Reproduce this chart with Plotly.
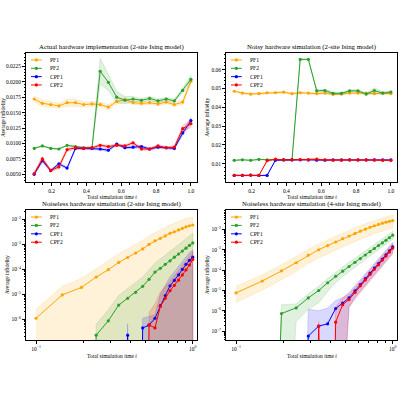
import plotly.graph_objects as go

# ---------------- data ----------------
t = [0.1, 0.147, 0.195, 0.242, 0.289, 0.337, 0.384, 0.432, 0.479, 0.526,
     0.574, 0.621, 0.668, 0.716, 0.763, 0.811, 0.858, 0.905, 0.953, 1.0]
series_names = ["PF1", "PF2", "CPF1", "CPF2"]

titles = ["Actual hardware implementation (2-site Ising model)",
          "Noisy hardware simulation (2-site Ising model)",
          "Noiseless hardware simulation (2-site Ising model)",
          "Noiseless hardware simulation (4-site Ising model)"]

# Top-left: actual hardware (mean, std)
tl_pf1 = [0.0172, 0.0165, 0.0163, 0.0161, 0.0166, 0.0166, 0.0163, 0.0164, 0.0163, 0.0159,
          0.0168, 0.0171, 0.0166, 0.0165, 0.0166, 0.0164, 0.0167, 0.0163, 0.0167, 0.0201]
tl_pf1_sd = [0.0005, 0.0005, 0.0005, 0.0004, 0.0006, 0.0006, 0.0004, 0.0004, 0.0004, 0.0004,
             0.0004, 0.0004, 0.0003, 0.0003, 0.0003, 0.0003, 0.0003, 0.0003, 0.0004, 0.0005]
tl_pf2 = [0.0092, 0.0096, 0.0092, 0.0091, 0.0097, 0.0095, 0.0093, 0.0093, 0.0217, 0.0199,
          0.0175, 0.0170, 0.0172, 0.0170, 0.0173, 0.0169, 0.0172, 0.0169, 0.0186, 0.0204]
tl_pf2_sd = [0.0001, 0.0001, 0.0001, 0.0001, 0.0001, 0.0001, 0.0001, 0.0001, 0.0021, 0.0013,
             0.0009, 0.0006, 0.0004, 0.0003, 0.0003, 0.0003, 0.0003, 0.0003, 0.0004, 0.0006]
tl_cpf1 = [0.0050, 0.0072, 0.0056, 0.0067, 0.0060, 0.0092, 0.0092, 0.0092, 0.0091, 0.0089,
           0.0099, 0.0093, 0.0094, 0.0095, 0.0091, 0.0094, 0.0093, 0.0092, 0.0117, 0.0137]
tl_cpf1_sd = [0.0002, 0.0003, 0.0002, 0.0002, 0.0002, 0.0002, 0.0002, 0.0002, 0.0002, 0.0002,
              0.0002, 0.0002, 0.0002, 0.0002, 0.0002, 0.0002, 0.0002, 0.0002, 0.0004, 0.0005]
tl_cpf2 = [0.0051, 0.0075, 0.0056, 0.0062, 0.0090, 0.0093, 0.0092, 0.0093, 0.0097, 0.0095,
           0.0097, 0.0096, 0.0101, 0.0091, 0.0091, 0.0096, 0.0093, 0.0094, 0.0124, 0.0132]
tl_cpf2_sd = [0.0002, 0.0004, 0.0002, 0.0003, 0.0003, 0.0002, 0.0002, 0.0002, 0.0002, 0.0002,
              0.0002, 0.0002, 0.0002, 0.0002, 0.0002, 0.0002, 0.0002, 0.0002, 0.0005, 0.0006]

# Top-right: noisy simulation (mean, std)
tr_pf1 = [0.0485, 0.0475, 0.0470, 0.0472, 0.0477, 0.0477, 0.0480, 0.0472, 0.0477, 0.0475,
          0.0472, 0.0475, 0.0468, 0.0470, 0.0475, 0.0475, 0.0475, 0.0472, 0.0475, 0.0472]
tr_pf1_sd = [0.0005] * 20
tr_pf2 = [0.0118, 0.0121, 0.0118, 0.0123, 0.0121, 0.0121, 0.0121, 0.0121, 0.0654, 0.0654,
          0.0487, 0.0489, 0.0474, 0.0474, 0.0487, 0.0487, 0.0470, 0.0489, 0.0475, 0.0481]
tr_pf2_sd = [0.0002, 0.0002, 0.0002, 0.0002, 0.0002, 0.0002, 0.0002, 0.0002, 0.0003, 0.0003,
             0.0006, 0.0008, 0.0006, 0.0006, 0.0006, 0.0006, 0.0006, 0.0014, 0.0007, 0.0007]
tr_cpf1 = [0.0038, 0.0038, 0.0040, 0.0038, 0.0038, 0.0119, 0.0121, 0.0121, 0.0121, 0.0121,
           0.0119, 0.0119, 0.0120, 0.0120, 0.0120, 0.0120, 0.0120, 0.0120, 0.0120, 0.0120]
tr_cpf1_sd = [0.0002] * 20
tr_cpf2 = [0.0038, 0.0038, 0.0039, 0.0038, 0.0116, 0.0124, 0.0120, 0.0121, 0.0122, 0.0120,
           0.0124, 0.0120, 0.0119, 0.0119, 0.0120, 0.0120, 0.0120, 0.0120, 0.0118, 0.0118]
tr_cpf2_sd = [0.0002] * 20

# Bottom-left: noiseless 2-site (mean, low, high); 0 = not representable on log axis
bl_pf1 = [1.1e-6, 9.5e-6, 1.9e-5, 4.9e-5, 9.7e-5, 1.9e-4, 3.0e-4, 4.5e-4, 6.6e-4, 1.0e-3,
          1.4e-3, 1.75e-3, 2.2e-3, 2.8e-3, 3.2e-3, 3.8e-3, 4.4e-3, 5.1e-3, 5.6e-3, 6.0e-3]
bl_pf1_hi = [2.5e-6, 2.1e-5, 4.3e-5, 1.1e-4, 2.2e-4, 4.2e-4, 6.7e-4, 1.0e-3, 1.45e-3, 2.2e-3,
             3.1e-3, 3.9e-3, 4.8e-3, 6.1e-3, 7.0e-3, 8.3e-3, 9.5e-3, 1.1e-2, 1.2e-2, 1.25e-2]
bl_pf1_lo = [0] * 20
bl_pf2 = [0, 0, 0, 2.3e-7, 8.7e-7, 3.7e-6, 6.9e-6, 1.2e-5, 2.1e-5, 4.0e-5,
          7.8e-5, 1.1e-4, 1.6e-4, 2.2e-4, 3.1e-4, 4.1e-4, 5.4e-4, 7.1e-4, 9.1e-4, 1.15e-3]
bl_pf2_hi = [0, 0, 0, 6.4e-7, 2.4e-6, 9.0e-6, 1.7e-5, 2.9e-5, 5.0e-5, 9.5e-5,
             1.8e-4, 2.6e-4, 3.8e-4, 5.2e-4, 7.3e-4, 9.6e-4, 1.3e-3, 1.7e-3, 2.2e-3, 2.8e-3]
bl_pf2_lo = [0] * 20
bl_cpf1 = [0, 0, 0, 0, 0, 0, 2.3e-7, 0, 4.5e-7, 5.8e-7,
           1.1e-6, 3.5e-6, 9.0e-6, 2.2e-5, 3.6e-5, 6.0e-5, 1.0e-4, 1.6e-4, 2.3e-4, 3.1e-4]
bl_cpf1_hi = [0, 0, 0, 0, 0, 0, 6.6e-7, 0, 1.1e-6, 1.3e-6,
              1.5e-6, 1.0e-5, 2.2e-5, 5.0e-5, 8.0e-5, 1.3e-4, 2.2e-4, 3.4e-4, 4.7e-4, 6.0e-4]
bl_cpf1_lo = [0] * 20
bl_cpf2 = [0, 0, 0, 0, 0, 0, 0, 0, 0, 6.0e-7,
           4.5e-7, 3.3e-6, 7.0e-6, 1.4e-5, 2.3e-5, 3.7e-5, 6.0e-5, 9.5e-5, 1.5e-4, 2.5e-4]
bl_cpf2_hi = [0, 0, 0, 0, 0, 0, 0, 0, 0, 1.9e-6,
              4.2e-6, 1.25e-5, 2.0e-5, 3.4e-5, 5.5e-5, 8.5e-5, 1.4e-4, 2.2e-4, 3.4e-4, 5.0e-4]
bl_cpf2_lo = [0] * 20

# Bottom-right: noiseless 4-site (mean, low, high)
br_pf1 = [7.6e-6, 2.9e-5, 9.1e-5, 2.3e-4, 5.4e-4, 1.0e-3, 1.6e-3, 2.4e-3, 3.5e-3, 4.7e-3,
          6.3e-3, 8.1e-3, 1.02e-2, 1.26e-2, 1.5e-2, 1.74e-2, 2.0e-2, 2.24e-2, 2.45e-2, 2.7e-2]
br_pf1_hi = [1.6e-5, 6.0e-5, 1.85e-4, 4.6e-4, 1.07e-3, 1.95e-3, 3.1e-3, 4.6e-3, 6.6e-3, 8.8e-3,
             1.17e-2, 1.5e-2, 1.88e-2, 2.3e-2, 2.75e-2, 3.2e-2, 3.65e-2, 4.1e-2, 4.5e-2, 5.0e-2]
br_pf1_lo = [2.6e-6, 1.05e-5, 3.4e-5, 8.8e-5, 2.1e-4, 3.9e-4, 6.3e-4, 9.5e-4, 1.4e-3, 1.9e-3,
             2.5e-3, 3.3e-3, 4.2e-3, 5.2e-3, 6.2e-3, 7.2e-3, 8.4e-3, 9.4e-3, 1.04e-2, 1.15e-2]
br_pf2 = [0, 0, 7.4e-7, 1.4e-6, 4.3e-6, 1.0e-5, 2.4e-5, 5.0e-5, 8.9e-5, 1.5e-4,
          2.4e-4, 3.7e-4, 5.5e-4, 8.0e-4, 1.15e-3, 1.6e-3, 2.15e-3, 2.9e-3, 3.9e-3, 5.2e-3]
br_pf2_hi = [0, 0, 2.0e-6, 2.2e-6, 7.0e-6, 1.6e-5, 3.9e-5, 8.0e-5, 1.4e-4, 2.4e-4,
             3.8e-4, 5.8e-4, 8.6e-4, 1.25e-3, 1.8e-3, 2.5e-3, 3.3e-3, 4.5e-3, 6.0e-3, 8.0e-3]
br_pf2_lo = [0, 0, 0, 3.0e-7, 1.2e-6, 2.5e-6, 9.0e-6, 2.4e-5, 4.8e-5, 8.5e-5,
             1.4e-4, 2.2e-4, 3.3e-4, 4.9e-4, 7.1e-4, 1.0e-3, 1.35e-3, 1.8e-3, 2.45e-3, 3.3e-3]
br_cpf1 = [0, 0, 0, 0, 5.8e-8, 1.8e-7, 2.3e-7, 1.3e-6, 2.4e-6, 4.4e-6,
           9.5e-6, 1.95e-5, 3.8e-5, 7.1e-5, 1.26e-4, 2.1e-4, 3.5e-4, 5.6e-4, 8.9e-4, 1.4e-3]
br_cpf1_hi = [0, 0, 0, 0, 1.2e-6, 1.0e-6, 1.4e-6, 3.2e-6, 4.4e-6, 8.0e-6,
              1.7e-5, 3.4e-5, 6.6e-5, 1.2e-4, 2.1e-4, 3.5e-4, 5.8e-4, 9.2e-4, 1.45e-3, 2.3e-3]
br_cpf1_lo = [0, 0, 0, 0, 0, 0, 0, 0, 0, 1.5e-6,
              4.5e-6, 9.5e-6, 1.9e-5, 3.6e-5, 6.4e-5, 1.1e-4, 1.8e-4, 2.9e-4, 4.6e-4, 7.2e-4]
br_cpf2 = [0, 0, 0, 0, 0, 1.8e-7, 0, 2.8e-7, 2.0e-6, 3.6e-6,
           8.0e-6, 1.7e-5, 3.3e-5, 6.2e-5, 1.1e-4, 1.85e-4, 3.1e-4, 4.9e-4, 7.8e-4, 1.2e-3]
br_cpf2_hi = [0, 0, 0, 0, 0, 3.0e-7, 0, 1.5e-6, 4.5e-6, 6.5e-6,
              1.4e-5, 2.9e-5, 5.6e-5, 1.05e-4, 1.85e-4, 3.1e-4, 5.2e-4, 8.2e-4, 1.3e-3, 2.0e-3]
br_cpf2_lo = [0, 0, 0, 0, 0, 0, 0, 0, 0, 1.5e-6,
              3.8e-6, 8.5e-6, 1.7e-5, 3.2e-5, 5.6e-5, 9.5e-5, 1.6e-4, 2.5e-4, 4.0e-4, 6.2e-4]

# ---------------- style ----------------
colors = ["#ffa500", "#2ca02c", "#0000ff", "#ff0000"]
FONT = "Liberation Serif"
FLOOR = 1e-30  # stand-in for non-positive values on log axes (drawn off-plot, like matplotlib clip)


def rgba(h, a):
    h = h.lstrip("#")
    return "rgba(%d,%d,%d,%s)" % (int(h[0:2], 16), int(h[2:4], 16), int(h[4:6], 16), a)


def pos(v):
    return v if v > 0 else FLOOR


fig = go.Figure()

panels = [
    dict(log=False,
         means=[tl_pf1, tl_pf2, tl_cpf1, tl_cpf2],
         sds=[tl_pf1_sd, tl_pf2_sd, tl_cpf1_sd, tl_cpf2_sd]),
    dict(log=False,
         means=[tr_pf1, tr_pf2, tr_cpf1, tr_cpf2],
         sds=[tr_pf1_sd, tr_pf2_sd, tr_cpf1_sd, tr_cpf2_sd]),
    dict(log=True,
         means=[bl_pf1, bl_pf2, bl_cpf1, bl_cpf2],
         los=[bl_pf1_lo, bl_pf2_lo, bl_cpf1_lo, bl_cpf2_lo],
         his=[bl_pf1_hi, bl_pf2_hi, bl_cpf1_hi, bl_cpf2_hi]),
    dict(log=True,
         means=[br_pf1, br_pf2, br_cpf1, br_cpf2],
         los=[br_pf1_lo, br_pf2_lo, br_cpf1_lo, br_cpf2_lo],
         his=[br_pf1_hi, br_pf2_hi, br_cpf1_hi, br_cpf2_hi]),
]

for k, p in enumerate(panels):
    xa = "x" if k == 0 else "x%d" % (k + 1)
    ya = "y" if k == 0 else "y%d" % (k + 1)
    for i in range(4):
        m = p["means"][i]
        if p["log"]:
            lo = [pos(v) for v in p["los"][i]]
            hi = [pos(v) for v in p["his"][i]]
            ym = [pos(v) for v in m]
        else:
            sd = p["sds"][i]
            lo = [a - b for a, b in zip(m, sd)]
            hi = [a + b for a, b in zip(m, sd)]
            ym = m
        fig.add_trace(go.Scatter(
            x=t + t[::-1], y=hi + lo[::-1], xaxis=xa, yaxis=ya,
            mode="lines", fill="toself",
            fillcolor=rgba(colors[i], 0.15),
            line=dict(color=rgba(colors[i], 0.15), width=1),
            hoverinfo="skip", showlegend=False))
        fig.add_trace(go.Scatter(
            x=t, y=ym, xaxis=xa, yaxis=ya, mode="lines+markers",
            name=series_names[i],
            line=dict(color=colors[i], width=1),
            marker=dict(color=colors[i], size=3.2),
            showlegend=False))

# ---------------- layout ----------------
dom_x = [[0.065, 0.4925], [0.565, 0.9925], [0.065, 0.4925], [0.565, 0.9925]]
dom_y = [[0.545, 0.8675], [0.545, 0.8675], [0.15, 0.475], [0.15, 0.475]]
tick_font = dict(family=FONT, size=5.5, color="black")

axis_common = dict(showline=True, mirror=True, linecolor="black", linewidth=0.8,
                   ticks="outside", ticklen=3, tickwidth=0.8, tickcolor="black",
                   showgrid=False, zeroline=False, tickfont=tick_font)

log_x_minor = [v / 100 for v in range(20, 100, 10)]


def log_minor(lo_exp, hi_exp):
    out = []
    for e in range(lo_exp, hi_exp):
        for s in range(2, 10):
            out.append(s * 10.0 ** e)
    return out


def sup(e):
    return "10<sup>%s</sup>" % (("\u2212%d" % -e) if e < 0 else str(e))


layout = dict(width=400, height=400, margin=dict(l=0, r=0, t=0, b=0),
              paper_bgcolor="white", plot_bgcolor="white", showlegend=False,
              font=dict(family=FONT, color="black"))

minor_lin_x = dict(ticks="outside", ticklen=1.6, tickwidth=0.6, tickcolor="black", dtick=0.05)

# top-left
layout["xaxis"] = dict(axis_common, domain=dom_x[0], anchor="y", range=[0.053, 1.035],
                       tickvals=[0.2, 0.4, 0.6, 0.8, 1.0], ticktext=["0.2", "0.4", "0.6", "0.8", "1.0"],
                       minor=minor_lin_x)
layout["yaxis"] = dict(axis_common, domain=dom_y[0], anchor="x", range=[0.00375, 0.02466],
                       tickvals=[0.005, 0.0075, 0.01, 0.0125, 0.015, 0.0175, 0.02, 0.0225],
                       tickformat=".4f",
                       minor=dict(ticks="outside", ticklen=1.6, tickwidth=0.6, tickcolor="black", dtick=0.0005))
# top-right
layout["xaxis2"] = dict(axis_common, domain=dom_x[1], anchor="y2", range=[0.053, 1.035],
                        tickvals=[0.2, 0.4, 0.6, 0.8, 1.0], ticktext=["0.2", "0.4", "0.6", "0.8", "1.0"],
                        minor=minor_lin_x)
layout["yaxis2"] = dict(axis_common, domain=dom_y[1], anchor="x2", range=[0.0003, 0.0688],
                        tickvals=[0.01, 0.02, 0.03, 0.04, 0.05, 0.06], tickformat=".2f",
                        minor=dict(ticks="outside", ticklen=1.6, tickwidth=0.6, tickcolor="black", dtick=0.002))
# bottom-left
layout["xaxis3"] = dict(axis_common, domain=dom_x[2], anchor="y3", type="log", range=[-1.064, 0.027],
                        tickvals=[0.1, 1.0], ticktext=[sup(-1), sup(0)],
                        minor=dict(ticks="outside", ticklen=1.6, tickwidth=0.6, tickcolor="black",
                                   tickvals=log_x_minor))
layout["yaxis3"] = dict(axis_common, domain=dom_y[2], anchor="x3", type="log", range=[-6.83, -1.62],
                        tickvals=[10.0 ** e for e in range(-6, -1)], ticktext=[sup(e) for e in range(-6, -1)],
                        minor=dict(ticks="outside", ticklen=1.6, tickwidth=0.6, tickcolor="black",
                                   tickvals=log_minor(-7, -1)))
# bottom-right
layout["xaxis4"] = dict(axis_common, domain=dom_x[3], anchor="y4", type="log", range=[-1.064, 0.027],
                        tickvals=[0.1, 1.0], ticktext=[sup(-1), sup(0)],
                        minor=dict(ticks="outside", ticklen=1.6, tickwidth=0.6, tickcolor="black",
                                   tickvals=log_x_minor))
layout["yaxis4"] = dict(axis_common, domain=dom_y[3], anchor="x4", type="log", range=[-7.43, -1.05],
                        tickvals=[10.0 ** e for e in range(-7, -1)], ticktext=[sup(e) for e in range(-7, -1)],
                        minor=dict(ticks="outside", ticklen=1.6, tickwidth=0.6, tickcolor="black",
                                   tickvals=log_minor(-8, -1)))

annotations = []
shapes = []
ylab_x = [0.009, 0.518, 0.018, 0.518]
xlab_shift = [-10, -10, -11, -11]
for k in range(4):
    xa = "x" if k == 0 else "x%d" % (k + 1)
    ya = "y" if k == 0 else "y%d" % (k + 1)
    # title
    annotations.append(dict(text=titles[k], xref=xa + " domain", yref=ya + " domain",
                            x=0.5, y=1, xanchor="center", yanchor="bottom", yshift=0,
                            showarrow=False, font=dict(family=FONT, size=6.8, color="black")))
    # x label
    annotations.append(dict(text="Total simulation time <i>t</i>", xref=xa + " domain",
                            yref=ya + " domain", x=0.5, y=0, xanchor="center", yanchor="top",
                            yshift=xlab_shift[k], showarrow=False,
                            font=dict(family=FONT, size=5.5, color="black")))
    # y label
    annotations.append(dict(text="Average infidelity", xref="paper", yref=ya + " domain",
                            x=ylab_x[k], y=0.5, xanchor="center", yanchor="middle", textangle=-90,
                            showarrow=False, font=dict(family=FONT, size=5.4, color="black")))
    # legend (drawn manually to match compact matplotlib legend)
    for i in range(4):
        yy = 0.946 - i * 0.0646
        shapes.append(dict(type="line", xref=xa + " domain", yref=ya + " domain",
                           x0=0.029, x1=0.092, y0=yy, y1=yy,
                           line=dict(color=colors[i], width=1)))
        shapes.append(dict(type="circle", xref=xa + " domain", yref=ya + " domain",
                           x0=0.0605 - 0.0095, x1=0.0605 + 0.0095,
                           y0=yy - 0.0125, y1=yy + 0.0125,
                           fillcolor=colors[i], line=dict(width=0)))
        annotations.append(dict(text=series_names[i], xref=xa + " domain", yref=ya + " domain",
                                x=0.129, y=yy, xanchor="left", yanchor="middle", showarrow=False,
                                font=dict(family=FONT, size=5.6, color="black")))

layout["annotations"] = annotations
layout["shapes"] = shapes
fig.update_layout(**layout)
fig.write_html("out.html")
